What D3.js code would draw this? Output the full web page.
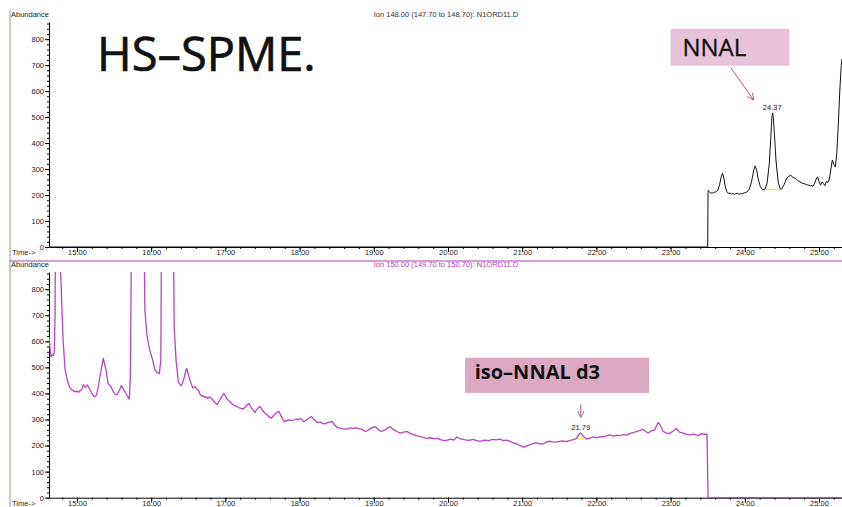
<!DOCTYPE html>
<html>
<head>
<meta charset="utf-8">
<script src="https://cdn.jsdelivr.net/npm/d3@7"></script>
<style>
  body { margin: 0; background: #fff; }
  svg { display: block; }
  .small { font-family: "Liberation Sans Narrow", "Liberation Sans", Arial, sans-serif; font-size: 7.5px; }
</style>
</head>
<body>
<div id="chart"></div>
<script>
// axis ticks (minutes / abundance)
const xTicks = [15, 16, 17, 18, 19, 20, 21, 22, 23, 24, 25];
const yTicks = [0, 100, 200, 300, 400, 500, 600, 700, 800];

// Ion 148 trace [time, abundance]
const ion148 = [
  [14.623, 0], [23.50, 0], [23.505, 218], [23.52, 214], [23.54, 208], [23.56, 207], [23.58, 210],
  [23.61, 212], [23.64, 220], [23.66, 240], [23.68, 268], [23.70, 284], [23.72, 262], [23.74, 228],
  [23.76, 213], [23.78, 206], [23.80, 208], [23.82, 204], [23.84, 206], [23.86, 203], [23.88, 205],
  [23.90, 207], [23.92, 203], [23.94, 206], [23.96, 204], [23.98, 207], [24.00, 209], [24.03, 212],
  [24.06, 222], [24.09, 250], [24.12, 295], [24.14, 312], [24.16, 295], [24.18, 262], [24.21, 232],
  [24.24, 220], [24.27, 222], [24.30, 245], [24.33, 320], [24.35, 420], [24.365, 500], [24.375, 516],
  [24.385, 495], [24.40, 430], [24.42, 335], [24.45, 250], [24.48, 222], [24.50, 224], [24.53, 240],
  [24.56, 262], [24.59, 272], [24.62, 276], [24.65, 268], [24.68, 264], [24.71, 255], [24.74, 252],
  [24.77, 246], [24.80, 244], [24.83, 240], [24.86, 238], [24.89, 236], [24.92, 234], [24.94, 245],
  [24.96, 260], [24.98, 270], [25.00, 252], [25.02, 238], [25.04, 250], [25.06, 244], [25.08, 236],
  [25.10, 252], [25.12, 248], [25.14, 262], [25.16, 300], [25.18, 335], [25.20, 318], [25.22, 308],
  [25.24, 360], [25.26, 470], [25.28, 600], [25.30, 700], [25.31, 725]
];

// Ion 150 trace [time, abundance]
const ion150 = [
  [14.623, 618], [14.64, 565], [14.65, 542], [14.665, 548], [14.68, 544], [14.695, 560], [14.705, 700],
  [14.715, 1400], [14.755, 1400], [14.775, 900], [14.79, 785], [14.815, 593], [14.84, 491], [14.86, 465],
  [14.88, 440], [14.905, 421], [14.93, 414], [14.95, 411], [14.98, 406], [15.00, 409], [15.02, 405],
  [15.04, 410], [15.06, 414], [15.09, 433], [15.105, 425], [15.12, 424], [15.14, 433], [15.16, 422],
  [15.175, 414], [15.20, 400], [15.23, 388], [15.25, 390], [15.265, 395], [15.29, 430], [15.31, 465],
  [15.335, 505], [15.355, 535], [15.37, 515], [15.39, 491], [15.42, 437], [15.45, 430], [15.48, 412],
  [15.51, 398], [15.54, 395], [15.57, 412], [15.60, 430], [15.63, 415], [15.67, 395], [15.69, 385],
  [15.705, 378], [15.72, 465], [15.745, 1400], [15.89, 1400], [15.915, 721], [15.94, 632], [15.96, 595],
  [15.98, 567], [16.02, 529], [16.05, 491], [16.08, 481], [16.11, 476], [16.13, 529], [16.145, 1400],
  [16.29, 1400], [16.31, 657], [16.335, 529], [16.365, 446], [16.39, 433], [16.41, 430], [16.44, 455],
  [16.465, 485], [16.48, 496], [16.50, 475], [16.52, 453], [16.56, 421], [16.59, 427], [16.61, 418],
  [16.64, 411], [16.66, 395], [16.68, 390], [16.70, 392], [16.72, 385], [16.74, 388], [16.76, 381],
  [16.78, 386], [16.80, 384], [16.82, 379], [16.84, 372], [16.86, 364], [16.89, 358], [16.92, 372],
  [16.95, 388], [16.98, 399], [17.00, 390], [17.02, 380], [17.04, 374], [17.06, 369], [17.08, 362],
  [17.10, 358], [17.13, 352], [17.15, 350], [17.18, 346], [17.21, 343], [17.24, 340], [17.27, 348],
  [17.30, 358], [17.32, 361], [17.35, 345], [17.38, 333], [17.40, 327], [17.42, 338], [17.45, 347],
  [17.47, 350], [17.50, 336], [17.53, 325], [17.56, 318], [17.59, 310], [17.62, 305], [17.65, 315],
  [17.68, 325], [17.72, 331], [17.75, 315], [17.78, 298], [17.80, 292], [17.83, 296], [17.86, 299],
  [17.89, 296], [17.92, 298], [17.95, 302], [17.98, 300], [18.01, 303], [18.03, 301], [18.05, 292],
  [18.08, 295], [18.12, 305], [18.16, 311], [18.19, 302], [18.22, 293], [18.25, 288], [18.28, 290],
  [18.31, 285], [18.34, 283], [18.37, 287], [18.40, 290], [18.44, 292], [18.47, 280], [18.50, 271],
  [18.53, 268], [18.57, 265], [18.61, 263], [18.64, 263], [18.68, 268], [18.72, 266], [18.76, 268],
  [18.80, 265], [18.84, 262], [18.89, 254], [18.93, 260], [18.97, 268], [19.02, 273], [19.06, 262],
  [19.10, 254], [19.14, 258], [19.18, 266], [19.22, 273], [19.26, 262], [19.31, 254], [19.36, 248],
  [19.40, 252], [19.45, 254], [19.50, 245], [19.55, 241], [19.60, 236], [19.65, 232], [19.71, 228],
  [19.76, 230], [19.81, 227], [19.86, 228], [19.91, 222], [19.95, 219], [20.00, 222], [20.04, 225],
  [20.08, 221], [20.12, 233], [20.17, 226], [20.22, 223], [20.28, 220], [20.34, 224], [20.40, 218],
  [20.44, 217], [20.49, 221], [20.55, 219], [20.60, 224], [20.65, 222], [20.70, 225], [20.75, 219],
  [20.79, 221], [20.84, 216], [20.88, 210], [20.92, 207], [20.97, 200], [21.02, 194], [21.06, 199],
  [21.10, 203], [21.14, 207], [21.19, 210], [21.23, 207], [21.28, 206], [21.32, 212], [21.37, 217],
  [21.41, 214], [21.46, 213], [21.50, 216], [21.55, 218], [21.60, 215], [21.64, 220], [21.68, 222],
  [21.73, 228], [21.76, 240], [21.78, 248], [21.80, 245], [21.83, 234], [21.87, 225], [21.91, 229],
  [21.96, 233], [22.00, 230], [22.05, 234], [22.09, 233], [22.14, 237], [22.18, 241], [22.23, 236],
  [22.28, 240], [22.32, 238], [22.37, 242], [22.41, 240], [22.45, 246], [22.50, 250], [22.54, 254],
  [22.59, 258], [22.63, 262], [22.67, 253], [22.70, 249], [22.74, 256], [22.78, 259], [22.81, 275],
  [22.835, 289], [22.86, 278], [22.90, 254], [22.94, 249], [22.98, 246], [23.03, 255], [23.08, 265],
  [23.12, 252], [23.16, 249], [23.21, 243], [23.26, 241], [23.31, 244], [23.37, 238], [23.42, 246],
  [23.46, 243], [23.49, 245], [23.505, 0], [25.31, 0]
];

// integration baselines under the labelled peaks
const base148 = [[24.28, 222], [24.48, 222]];
const base150 = [[21.74, 226], [21.84, 226]];

const W = 842, H = 507;
const svg = d3.select("#chart").append("svg")
  .attr("width", W).attr("height", H);

svg.append("rect").attr("width", W).attr("height", H).attr("fill", "#fff");

const x = d3.scaleLinear().domain([14.623, 25.31]).range([49, 842]);
const yMax = 866;

const smallFont = '"Liberation Sans Narrow", "Liberation Sans", Arial, sans-serif';

const defs = svg.append("defs");
defs.append("marker").attr("id", "vhead")
  .attr("viewBox", "0 0 10 10").attr("refX", 9).attr("refY", 5)
  .attr("markerWidth", 8).attr("markerHeight", 8).attr("orient", "auto")
  .append("path").attr("d", "M1,1 L9,5 L1,9")
  .attr("fill", "none").attr("stroke", "#b0578a").attr("stroke-width", 1.2);

function drawPanel(cfg) {
  const y = d3.scaleLinear().domain([0, yMax]).range([cfg.y0, cfg.y1]);
  const g = svg.append("g");

  // header texts
  g.append("text").attr("class", "small")
    .attr("x", 11).attr("y", cfg.y1 - 5).attr("fill", "#222").text("Abundance");
  g.append("text").attr("class", "small")
    .attr("x", 446).attr("y", cfg.y1 - 5).attr("text-anchor", "middle")
    .attr("fill", cfg.headerColor).text(cfg.header);

  // y axis
  const yMinor = g.append("g").attr("transform", "translate(49,0)")
    .call(d3.axisLeft(y).tickValues(d3.range(0, 861, 20)).tickSize(2).tickSizeOuter(0).tickFormat(""));
  yMinor.select(".domain").remove();
  const yAx = g.append("g").attr("transform", "translate(49,0)")
    .call(d3.axisLeft(y).tickValues(yTicks).tickSize(4).tickPadding(1).tickSizeOuter(0));
  yAx.attr("font-family", smallFont).attr("font-size", 7.5);
  yAx.selectAll("text").attr("fill", "#222");

  // x axis
  const xMinor = g.append("g").attr("transform", `translate(0,${cfg.y0})`)
    .call(d3.axisBottom(x).tickValues(d3.range(14.8, 25.31, 0.2)).tickSize(2).tickSizeOuter(0).tickFormat(""));
  xMinor.select(".domain").remove();
  const xAx = g.append("g").attr("transform", `translate(0,${cfg.y0})`)
    .call(d3.axisBottom(x).tickValues(xTicks).tickSize(5).tickPadding(-2).tickSizeOuter(0)
      .tickFormat(d3.format(".2f")));
  xAx.attr("font-family", smallFont).attr("font-size", 7.5);
  xAx.selectAll("text").attr("fill", "#222");

  g.append("text").attr("class", "small")
    .attr("x", 12).attr("y", cfg.y0 + 8).attr("fill", "#222").text("Time->");

  // trace
  const clipId = "clip" + cfg.id;
  defs.append("clipPath").attr("id", clipId).append("rect")
    .attr("x", 49).attr("y", cfg.y1).attr("width", W - 49).attr("height", cfg.y0 - cfg.y1 + 2);

  const line = d3.line().x(d => x(d[0])).y(d => y(d[1]));
  g.append("path").datum(cfg.data)
    .attr("clip-path", `url(#${clipId})`)
    .attr("d", line).attr("fill", "none")
    .attr("stroke", cfg.color).attr("stroke-width", cfg.width).attr("stroke-linejoin", "round");

  g.append("path").datum(cfg.base)
    .attr("d", line).attr("fill", "none").attr("stroke", "#e8e23a").attr("stroke-width", 1.2);

  // retention time label
  g.append("text").attr("class", "small")
    .attr("x", x(cfg.peak[0])).attr("y", y(cfg.peak[1]) - 3)
    .attr("text-anchor", "middle").attr("fill", "#222").text(cfg.peak[0].toFixed(2));

  return y;
}

const yTop = drawPanel({
  id: "top", y0: 247, y1: 22, data: ion148, base: base148, peak: [24.37, 516],
  color: "#111", width: 1, header: "Ion 148.00 (147.70 to 148.70): N1ORD11.D", headerColor: "#333"
});
const yBot = drawPanel({
  id: "bot", y0: 497.7, y1: 272, data: ion150, base: base150, peak: [21.79, 248],
  color: "#b444c0", width: 1.3, header: "Ion 150.00 (149.70 to 150.70): N1ORD11.D", headerColor: "#a845b0"
});

// frame lines
svg.append("line").attr("x1", 10).attr("x2", 10).attr("y1", 10).attr("y2", H)
  .attr("stroke", "#a09878").attr("stroke-width", 1);
svg.append("line").attr("x1", 10).attr("x2", W).attr("y1", 261).attr("y2", 261)
  .attr("stroke", "#c47ccb").attr("stroke-width", 1.5);

// big title
svg.append("text").attr("x", 97).attr("y", 71)
  .attr("font-family", '"Open Sans", sans-serif').attr("font-size", 47)
  .attr("fill", "#111").attr("stroke", "#111").attr("stroke-width", 0.7)
  .text("HS\u2013SPME.");

// NNAL annotation
svg.append("rect").attr("x", x(23.0)).attr("y", yTop(840))
  .attr("width", x(24.6) - x(23.0)).attr("height", yTop(840 - 142) - yTop(840))
  .attr("fill", "#e8c2d8");
svg.append("text").attr("x", x(23.16)).attr("y", yTop(734))
  .attr("font-family", '"Open Sans", sans-serif').attr("font-size", 24)
  .attr("fill", "#111").attr("stroke", "#111").attr("stroke-width", 0.3).text("NNAL");
svg.append("line")
  .attr("x1", x(23.81)).attr("y1", yTop(690)).attr("x2", x(24.12)).attr("y2", yTop(566))
  .attr("stroke", "#b0578a").attr("stroke-width", 1).attr("marker-end", "url(#vhead)");

// iso-NNAL d3 annotation
svg.append("rect").attr("x", x(20.23)).attr("y", yBot(537))
  .attr("width", x(22.71) - x(20.23)).attr("height", yBot(402) - yBot(537))
  .attr("fill", "#dda9c2");
svg.append("text").attr("x", x(20.36)).attr("y", yBot(457))
  .attr("font-family", '"Open Sans", sans-serif').attr("font-size", 20).attr("font-weight", 700)
  .attr("fill", "#111").text("iso\u2013NNAL d3");
svg.append("line")
  .attr("x1", x(21.79)).attr("y1", yBot(358)).attr("x2", x(21.79)).attr("y2", yBot(308))
  .attr("stroke", "#b0578a").attr("stroke-width", 1).attr("marker-end", "url(#vhead)");
</script>
</body>
</html>
